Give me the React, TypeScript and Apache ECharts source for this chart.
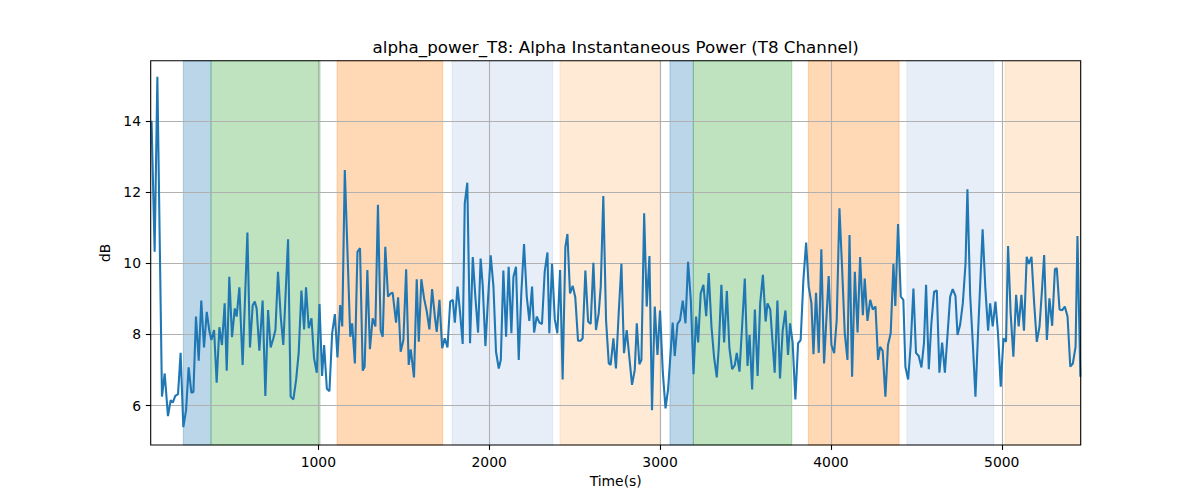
import React, { useEffect, useRef } from "react";
import * as echarts from "echarts";

// ---- data ----
const times = [
  24, 42, 58, 85, 101, 120, 136, 148, 163, 179, 194, 210, 226, 241, 257, 269, 284, 300, 315, 331,
  347, 362, 374, 390, 405, 421, 436, 452, 464, 479, 495, 511, 522, 538, 557, 585, 600, 616, 628, 639,
  655, 674, 690, 706, 721, 737, 749, 764, 780, 795, 823, 838, 854, 870, 885, 901, 917, 928, 944, 960,
  975, 991, 1007, 1022, 1034, 1050, 1065, 1081, 1097, 1112, 1128, 1140, 1155, 1187, 1198, 1214, 1229, 1244, 1260, 1271,
  1287, 1302, 1318, 1334, 1349, 1365, 1377, 1392, 1408, 1424, 1435, 1455, 1467, 1482, 1498, 1514, 1529, 1541, 1560, 1576,
  1588, 1603, 1619, 1635, 1650, 1666, 1682, 1693, 1709, 1725, 1740, 1756, 1772, 1787, 1799, 1815, 1830, 1845, 1857, 1872,
  1888, 1904, 1919, 1935, 1950, 1962, 1978, 1993, 2009, 2025, 2040, 2056, 2068, 2083, 2099, 2114, 2130, 2142, 2157, 2173,
  2188, 2204, 2220, 2235, 2251, 2263, 2278, 2294, 2309, 2325, 2341, 2352, 2368, 2384, 2399, 2415, 2430, 2446, 2458, 2473,
  2489, 2504, 2520, 2536, 2547, 2563, 2579, 2594, 2610, 2625, 2641, 2653, 2668, 2684, 2700, 2711, 2727, 2742, 2758, 2774,
  2789, 2805, 2820, 2836, 2852, 2864, 2879, 2891, 2907, 2922, 2938, 2953, 2969, 2985, 3000, 3016, 3032, 3047, 3074, 3086,
  3102, 3117, 3133, 3149, 3164, 3180, 3196, 3211, 3223, 3238, 3254, 3270, 3285, 3301, 3316, 3332, 3344, 3359, 3375, 3391,
  3406, 3422, 3438, 3449, 3465, 3481, 3496, 3512, 3524, 3539, 3555, 3571, 3586, 3602, 3618, 3629, 3645, 3671, 3687, 3702,
  3718, 3734, 3749, 3761, 3776, 3792, 3808, 3823, 3839, 3855, 3870, 3886, 3898, 3913, 3929, 3944, 3960, 3976, 3987, 4003,
  4019, 4034, 4050, 4066, 4081, 4097, 4109, 4124, 4140, 4156, 4171, 4187, 4198, 4214, 4230, 4245, 4261, 4276, 4288, 4303,
  4319, 4334, 4350, 4366, 4377, 4393, 4409, 4424, 4436, 4452, 4467, 4483, 4498, 4514, 4530, 4545, 4557, 4573, 4588, 4604,
  4620, 4635, 4651, 4667, 4682, 4698, 4713, 4729, 4741, 4756, 4772, 4788, 4799, 4815, 4831, 4846, 4862, 4888, 4904, 4920,
  4932, 4947, 4963, 4978, 4994, 5010, 5025, 5037, 5052, 5068, 5084, 5099, 5115, 5130, 5146, 5158, 5174, 5189, 5205, 5221,
  5236, 5248, 5264, 5279, 5295, 5311, 5322, 5338, 5354, 5369, 5385, 5401, 5416, 5432, 5443, 5460,
];

const powerDb = [
  14.0, 10.32, 15.24, 6.25, 6.9, 5.7, 6.15, 6.08, 6.27, 6.32, 7.48, 5.39, 5.87, 7.07, 6.36, 6.38, 8.5, 7.26, 8.95, 7.63,
  8.63, 8.1, 7.84, 8.12, 6.64, 8.2, 7.7, 8.87, 6.98, 9.62, 7.92, 8.73, 8.5, 9.32, 7.14, 10.86, 7.63, 8.82, 8.92, 8.73,
  7.54, 8.95, 6.27, 8.68, 7.63, 7.89, 8.12, 9.76, 8.5, 7.7, 10.67, 6.25, 6.17, 6.72, 7.47, 9.23, 8.14, 9.32, 8.17, 8.45,
  7.33, 6.92, 8.85, 6.83, 7.7, 6.47, 6.4, 8.03, 8.57, 7.35, 8.82, 8.22, 12.62, 7.93, 8.31, 7.18, 10.32, 10.42, 6.98, 7.09,
  9.81, 7.58, 8.45, 8.22, 11.64, 8.1, 7.93, 10.46, 9.06, 9.15, 9.17, 8.33, 9.04, 7.51, 7.84, 9.83, 7.14, 7.58, 6.79, 9.55,
  7.79, 9.55, 9.01, 8.64, 8.14, 9.27, 8.5, 8.07, 8.97, 7.61, 7.89, 7.63, 8.92, 8.97, 8.33, 9.34, 8.59, 7.73, 11.68, 12.26,
  7.75, 10.17, 9.06, 8.05, 10.13, 9.39, 7.67, 8.97, 10.22, 9.34, 7.51, 7.04, 7.28, 9.79, 7.93, 9.9, 8.03, 9.62, 9.9, 7.28,
  9.15, 10.54, 9.06, 8.38, 9.34, 8.05, 8.5, 8.33, 8.29, 9.76, 10.3, 8.03, 9.98, 8.42, 8.03, 9.81, 6.73, 10.46, 10.82, 9.15,
  9.36, 9.04, 7.82, 7.82, 7.89, 9.79, 8.36, 8.29, 10.01, 8.12, 8.59, 9.34, 11.89, 8.4, 7.18, 7.14, 7.89, 7.04, 8.59, 9.98,
  7.47, 8.12, 7.37, 6.58, 7.0, 8.31, 7.16, 7.28, 11.4, 8.78, 10.2, 5.87, 8.78, 7.42, 8.67, 6.95, 5.92, 6.45, 8.33, 7.39,
  8.29, 8.4, 8.95, 8.31, 10.04, 8.97, 6.88, 8.5, 7.77, 9.15, 9.39, 8.51, 9.72, 8.22, 7.37, 6.79, 7.65, 9.39, 7.77, 9.22,
  7.61, 7.02, 7.14, 7.48, 6.95, 8.29, 9.57, 7.11, 7.98, 6.45, 8.7, 6.83, 8.87, 9.67, 8.36, 8.87, 8.7, 6.92, 8.95, 6.76,
  8.12, 8.67, 7.42, 8.31, 7.77, 6.17, 7.75, 7.84, 9.53, 10.58, 9.34, 8.87, 7.44, 9.17, 7.48, 10.39, 7.18, 8.64, 9.64, 7.7,
  7.47, 8.4, 11.54, 9.81, 8.03, 7.28, 10.79, 6.81, 9.76, 8.05, 10.17, 8.54, 9.57, 8.38, 8.97, 8.7, 8.78, 7.28, 7.65, 7.54,
  6.25, 7.7, 8.03, 9.98, 8.8, 11.1, 9.06, 8.97, 7.09, 6.73, 7.7, 9.29, 7.48, 7.39, 7.07, 7.77, 9.39, 7.02, 8.31, 9.2,
  9.23, 6.92, 7.77, 6.92, 7.95, 9.06, 9.27, 9.08, 7.98, 8.26, 8.87, 9.99, 12.08, 9.11, 7.7, 6.25, 8.12, 10.95, 9.29, 8.1,
  8.87, 8.22, 8.92, 8.03, 6.53, 7.89, 7.79, 10.48, 8.59, 7.37, 9.11, 8.22, 9.11, 8.1, 10.18, 9.98, 10.18, 8.92, 7.79, 8.22,
  9.29, 10.23, 7.84, 9.01, 8.24, 9.83, 9.86, 8.7, 8.68, 8.78, 8.5, 7.09, 7.18, 7.65, 10.76, 6.81,
];

// shaded intervals (seconds) and their kind
const spanStarts = [210, 372, 1110, 1783, 2415, 3058, 3195, 3868, 4445, 5020];
const spanEnds = [372, 1010, 1728, 2372, 3000, 3195, 3771, 4399, 4953, 5462];
const spanKinds = ["blue", "green", "orange", "lightblue", "lightorange", "blue", "green", "orange", "lightblue", "lightorange"];

const xTickValues = [1000, 2000, 3000, 4000, 5000];
const yTickValues = [6, 8, 10, 12, 14];
const xRange = [19, 5462];
const yRange = [4.89, 15.69];

const titleText = "alpha_power_T8: Alpha Instantaneous Power (T8 Channel)";
const xName = "Time(s)";
const yName = "dB";

// ---- styles ----
const KIND_FILL: Record<string, string> = {
  blue: "rgba(31,119,180,0.3)",
  green: "rgba(44,160,44,0.3)",
  orange: "rgba(255,127,14,0.3)",
  lightblue: "rgba(174,199,232,0.3)",
  lightorange: "rgba(255,187,120,0.3)",
};

const FONT = "DejaVu Sans";
const W = 1200;
const H = 500;
const G_LEFT = 150.7;
const G_RIGHT = 1080.7;
const G_TOP = 60.7;
const G_BOTTOM = 445;

export default function App() {
  const ref = useRef<HTMLDivElement>(null);

  useEffect(() => {
    if (!ref.current) return;
    const chart = echarts.init(ref.current, undefined, { renderer: "svg" });

    const lineData = times.map((t, i) => [t, powerDb[i]]);
    const areas = spanStarts.map((s, i) => [
      {
        xAxis: s,
        itemStyle: {
          color: KIND_FILL[spanKinds[i]],
          borderColor: KIND_FILL[spanKinds[i]],
          borderWidth: 1,
        },
      },
      { xAxis: Math.min(spanEnds[i], xRange[1]) },
    ]);

    const axisCommon = {
      z: 2,
      axisLine: { show: false },
      axisTick: {
        show: true,
        length: 4.9,
        lineStyle: { color: "#000", width: 1.1 },
      },
      splitLine: { show: true, lineStyle: { color: "#b0b0b0", width: 1.1 } },
      nameLocation: "middle" as const,
      nameTextStyle: { fontFamily: FONT, fontSize: 13.9, color: "#000" },
    };

    chart.setOption({
      animation: false,
      backgroundColor: "#ffffff",
      grid: {
        left: G_LEFT,
        right: W - G_RIGHT,
        top: G_TOP,
        bottom: H - G_BOTTOM,
        containLabel: false,
      },
      xAxis: {
        ...axisCommon,
        type: "value",
        min: xRange[0],
        max: xRange[1],
        name: xName,
        nameGap: 28,
        axisTick: { ...axisCommon.axisTick, customValues: xTickValues },
        axisLabel: {
          customValues: xTickValues,
          formatter: (v: number) => String(v),
          margin: 9.7,
          fontFamily: FONT,
          fontSize: 13.9,
          color: "#000",
        },
      },
      yAxis: {
        ...axisCommon,
        type: "value",
        min: yRange[0],
        max: yRange[1],
        name: yName,
        nameGap: 33,
        nameRotate: 90,
        axisTick: { ...axisCommon.axisTick, customValues: yTickValues },
        axisLabel: {
          customValues: yTickValues,
          formatter: (v: number) => String(v),
          margin: 9.7,
          fontFamily: FONT,
          fontSize: 13.9,
          color: "#000",
        },
      },
      series: [
        {
          type: "line",
          z: 5,
          data: lineData,
          symbol: "none",
          showSymbol: false,
          lineStyle: { color: "#1f77b4", width: 2.08 },
          markArea: {
            silent: true,
            label: { show: false },
            data: areas,
          },
        },
      ],
      graphic: [
        {
          type: "text",
          x: (G_LEFT + G_RIGHT) / 2,
          y: 46.5,
          z: 100,
          style: {
            text: titleText,
            fill: "#000",
            font: `16.7px "${FONT}"`,
            fontFamily: FONT,
            fontSize: 16.7,
            align: "center",
            verticalAlign: "middle",
            textAlign: "center",
            textVerticalAlign: "middle",
          },
        },
        {
          type: "rect",
          z: 100,
          shape: {
            x: G_LEFT,
            y: G_TOP,
            width: G_RIGHT - G_LEFT,
            height: G_BOTTOM - G_TOP,
          },
          style: { fill: "none", stroke: "#000", lineWidth: 1.1 },
          silent: true,
        },
      ],
    });

    return () => chart.dispose();
  }, []);

  return (
    <div
      ref={ref}
      style={{ position: "fixed", left: 0, top: 0, width: W, height: H, background: "#fff" }}
    />
  );
}
